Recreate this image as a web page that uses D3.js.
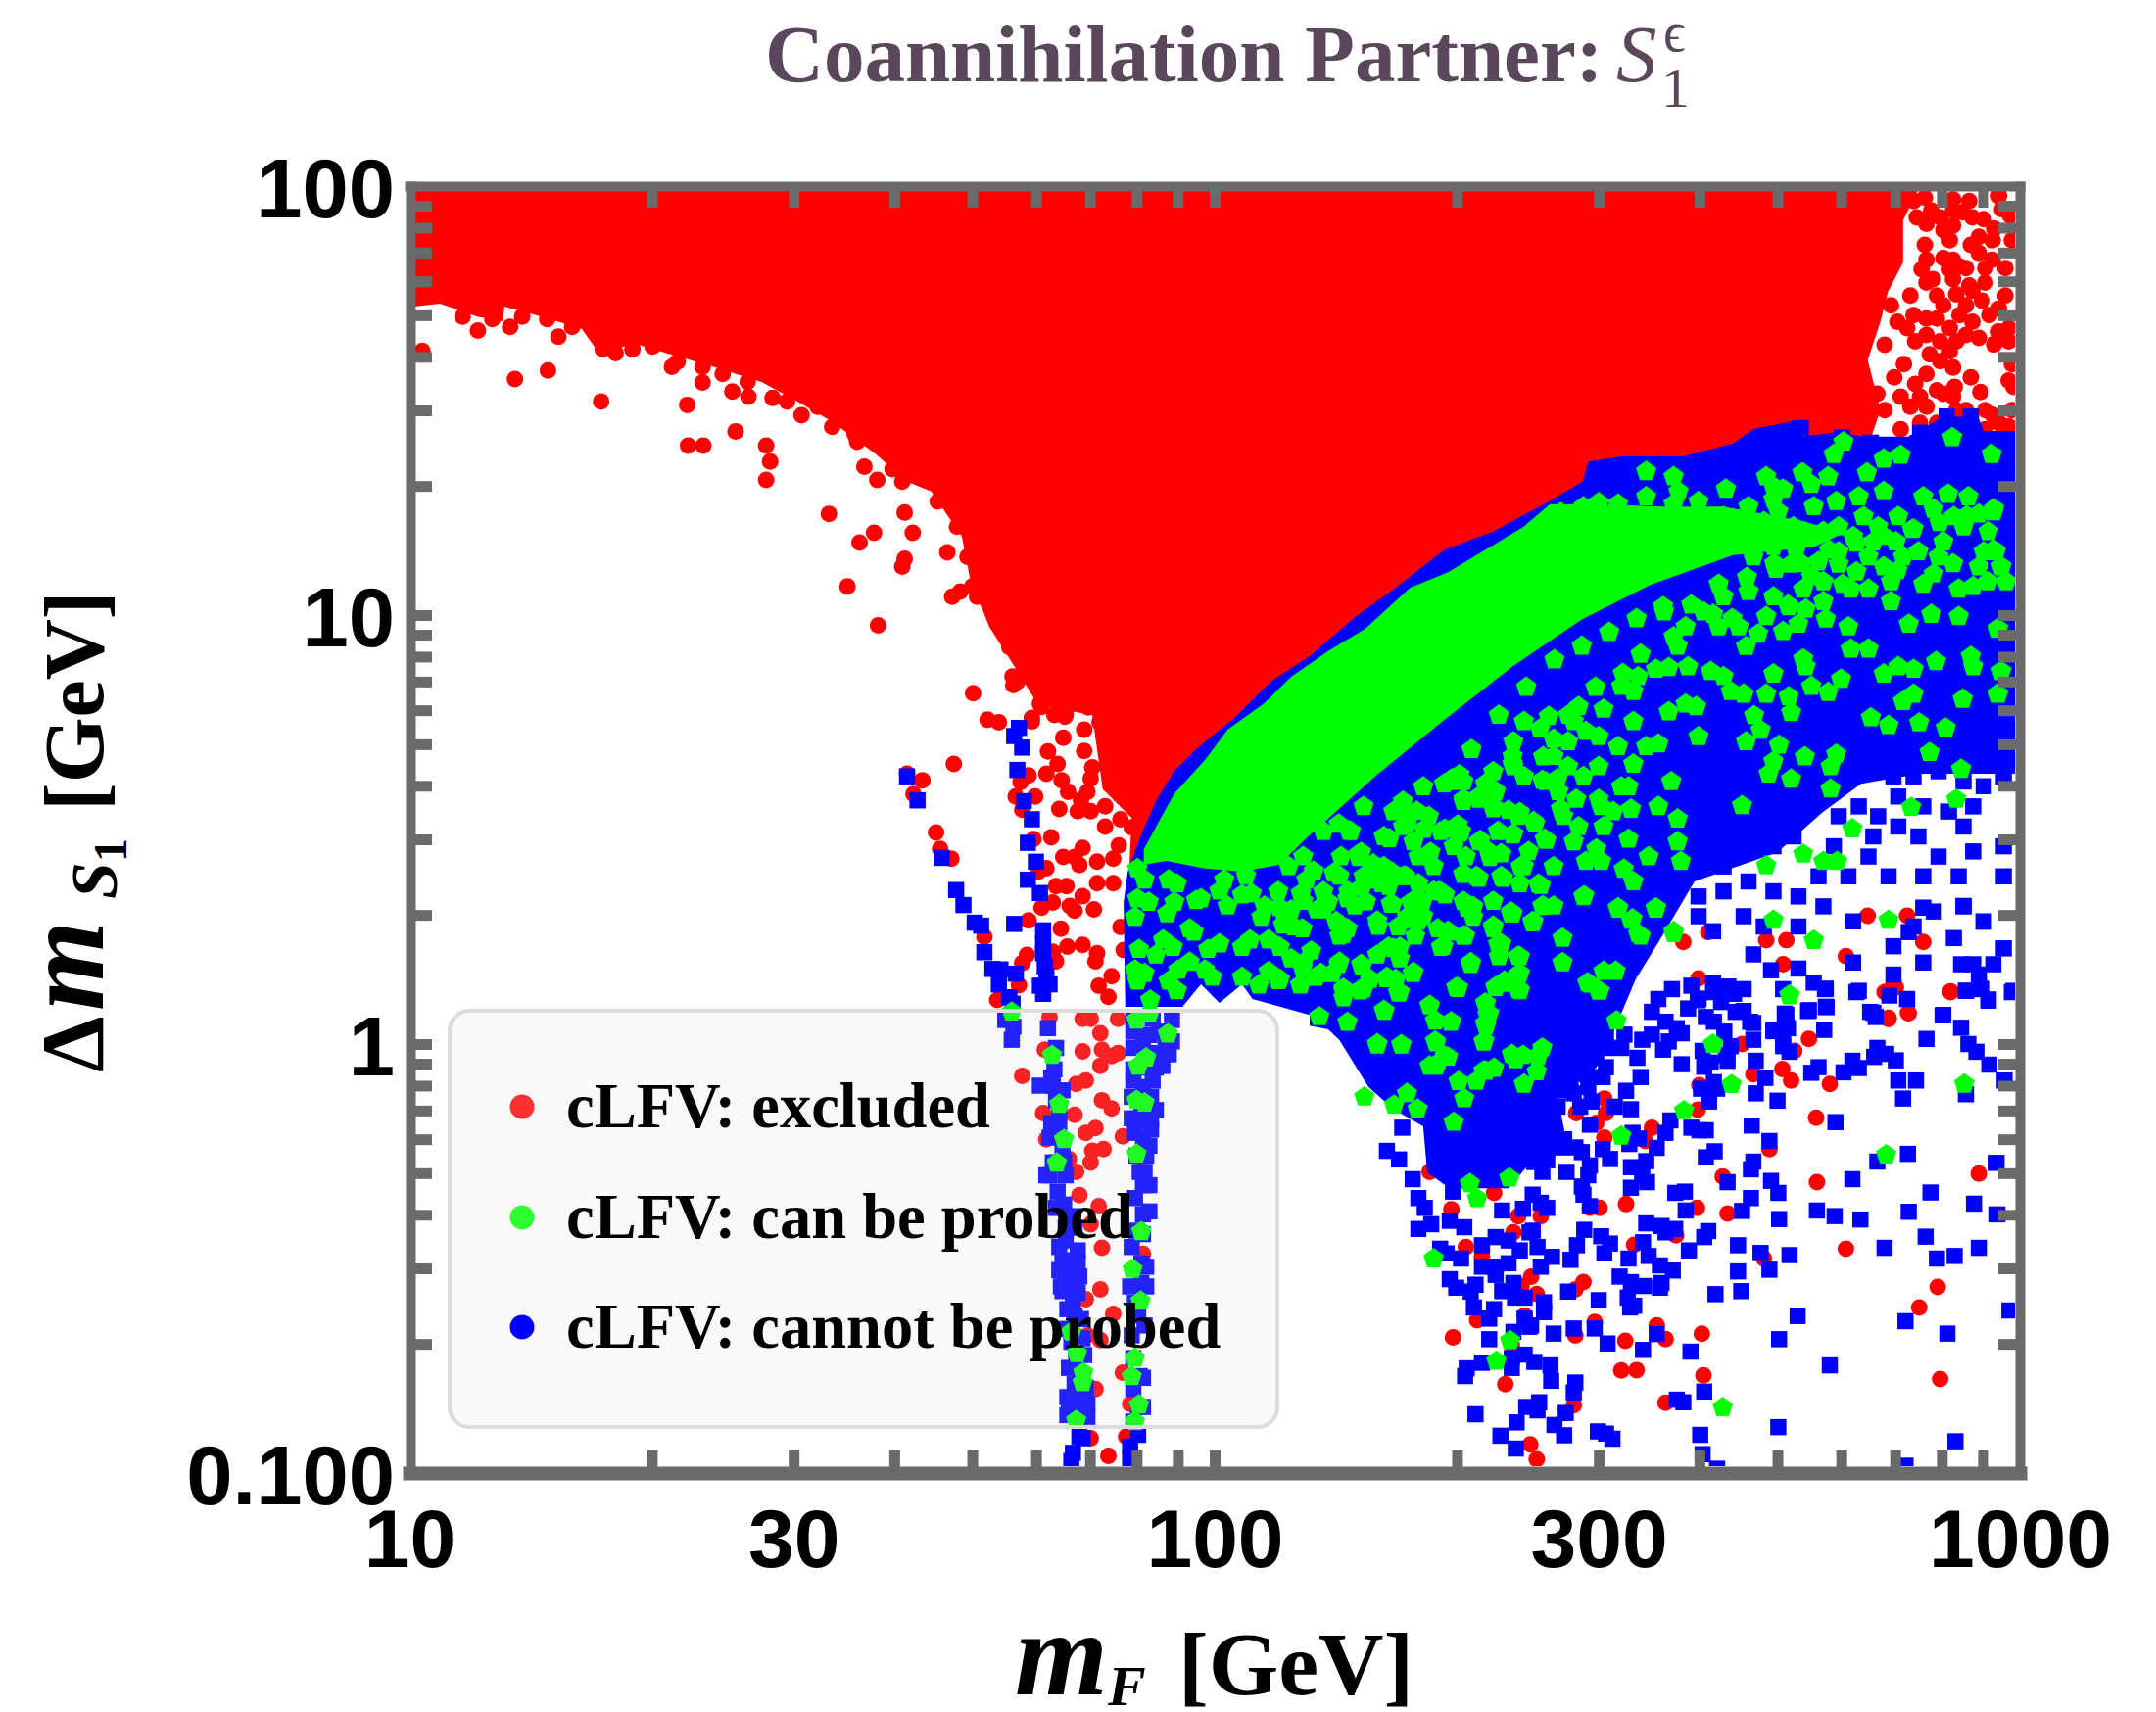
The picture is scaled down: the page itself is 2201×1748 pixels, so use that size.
<!DOCTYPE html>
<html><head><meta charset="utf-8">
<script src="https://cdnjs.cloudflare.com/ajax/libs/d3/7.8.5/d3.min.js"></script>
<style>html,body{margin:0;padding:0;background:#fff}svg{display:block}</style></head>
<body><svg id="c" width="2201" height="1748"></svg>
<script>
// All readings are [log10(mF / GeV), log10(dm / GeV)].
const xLabelTicks=[10,30,100,300,1000];
const yLabelTicks=[100,10,1,0.1];
const yLabelText=["100","10","1","0.100"];
const legendNames=["cLFV: excluded","cLFV: can be probed","cLFV: cannot be probed"];

// Outlines of the clouds too dense to resolve into single points
const redZone=[[1,2],[2.876,2],[2.855,1.92],[2.855,1.822],[2.836,1.753],[2.827,1.685],[2.811,1.594],[2.827,1.479],[2.809,1.38],[2.742,1.38],[2.669,1.38],[2.582,1.3],[2.464,1.25],[2.416,1.24],[2.36,1.19],[2.286,1.124],[2.22,1.033],[2.174,.969],[2.118,.88],[2.071,.822],[2.024,.736],[1.978,.665],[1.95,.612],[1.927,.542],[1.909,.464],[1.894,.413],[1.897,.527],[1.861,.594],[1.848,.767],[1.781,.79],[1.751,.881],[1.72,.973],[1.696,1.087],[1.686,1.183],[1.648,1.288],[1.618,1.311],[1.58,1.374],[1.524,1.452],[1.482,1.498],[1.438,1.543],[1.376,1.58],[1.32,1.61],[1.282,1.632],[1.234,1.614],[1.214,1.667],[1.164,1.696],[1.118,1.719],[1.116,1.685],[1.084,1.696],[1.038,1.726],[1.006,1.719],[1,1.719]];
const blueZone=[[1.889,.087],[1.887,.331],[1.892,.402],[1.909,.489],[1.927,.566],[1.95,.637],[1.978,.689],[2.024,.76],[2.071,.847],[2.118,.904],[2.174,.995],[2.22,1.057],[2.286,1.153],[2.345,1.194],[2.415,1.265],[2.457,1.311],[2.464,1.358],[2.507,1.37],[2.539,1.37],[2.582,1.37],[2.644,1.4],[2.669,1.434],[2.718,1.452],[2.731,1.416],[2.774,1.427],[2.805,1.416],[2.861,1.416],[2.905,1.463],[2.948,1.463],[2.955,1.429],[3,1.429],[3,.63],[2.876,.63],[2.803,.607],[2.754,.539],[2.699,.447],[2.596,.379],[2.56,.265],[2.523,.151],[2.492,.014],[2.474,-.055],[2.426,-.123],[2.438,-.237],[2.389,-.283],[2.365,-.336],[2.292,-.336],[2.264,-.299],[2.259,-.192],[2.223,-.153],[2.191,-.1],[2.176,-.055],[2.155,.009],[2.141,.034],[2.118,.043],[2.118,.068],[2.047,.105],[2.034,.139],[2.006,.096],[1.983,.139],[1.96,.087]];
const greenZone=[[1.912,.418],[1.912,.454],[1.932,.523],[1.95,.584],[1.988,.662],[2.016,.733],[2.062,.795],[2.095,.856],[2.141,.916],[2.187,.968],[2.243,1.064],[2.29,1.1],[2.345,1.162],[2.383,1.205],[2.416,1.258],[2.471,1.258],[2.557,1.253],[2.631,1.253],[2.731,1.219],[2.78,1.19],[2.746,1.16],[2.644,1.14],[2.541,1.07],[2.456,.99],[2.37,.88],[2.285,.755],[2.2,.625],[2.114,.48],[2.08,.418],[2.034,.402],[1.988,.409],[1.94,.427]];

// Red points: top-right corner, the left fringe, the V between the strips, the lower right
const redCorner=[[2.868,1.965],[2.882,1.973],[2.872,1.927],[2.917,1.969],[2.937,1.965],[2.974,1.977],[2.988,1.931],[2.955,1.923],[2.917,1.943],[2.905,1.897],[2.917,1.908],[2.968,1.901],[2.966,1.874],[2.882,1.863],[2.913,1.874],[2.939,1.863],[2.949,1.844],[2.905,1.832],[2.925,1.813],[2.933,1.809],[2.957,1.809],[2.982,1.809],[2.878,1.806],[2.892,1.783],[2.917,1.783],[2.937,1.768],[2.897,1.745],[2.921,1.748],[2.941,1.756],[2.953,1.733],[2.982,1.745],[2.897,1.691],[2.925,1.699],[2.962,1.699],[2.941,1.684],[2.986,1.669],[2.949,1.646],[2.968,1.631],[2.986,1.638],[2.901,1.638],[2.921,1.638],[2.888,1.608],[2.913,1.615],[2.917,1.577],[2.884,1.562],[2.939,1.554],[2.919,1.532],[2.905,1.516],[2.951,1.52],[2.992,1.532],[2.86,1.669],[2.868,1.699],[2.864,1.745],[2.848,1.684],[2.84,1.722],[2.856,1.585],[2.832,1.63],[2.844,1.554],[2.852,1.509],[2.876,1.509],[2.884,1.486],[2.966,1.467],[2.921,1.478],[2.986,1.44],[2.957,1.433],[2.974,1.448],[2.909,1.433],[2.876,1.448],[2.852,1.433],[2.832,1.478],[2.823,1.516],[2.884,1.912],[2.99,1.585],
[2.89,1.943],[2.901,1.927],[2.941,1.927],[2.929,1.939],[2.978,1.946],[2.99,1.874],[2.949,1.882],[2.884,1.828],[2.913,1.806],[2.966,1.828],[2.917,1.828],[2.884,1.775],[2.957,1.775],[2.905,1.722],[2.933,1.722],[2.974,1.714],[2.884,1.691],[2.913,1.669],[2.933,1.653],[2.884,1.653],[2.901,1.592],[2.974,1.661],[2.87,1.638],[2.87,1.539],[2.897,1.524],[2.917,1.509],[2.957,1.478],[2.933,1.478],[2.864,1.486],[2.897,1.448],[2.921,1.448],[2.99,1.478],[2.986,1.547]];
const redFringe=[[1.085,1.663],[1.016,1.616],[1.131,1.55],[1.172,1.57],[1.238,1.498],[1.345,1.49],[1.346,1.395],[1.365,1.395],[1.405,1.428],[1.443,1.395],[1.448,1.358],[1.443,1.315],[1.521,1.236],[1.577,1.192],[1.559,1.169],[1.615,1.239],[1.625,1.192],[1.615,1.131],[1.612,1.113],[1.544,1.067],[1.582,.976],[1.668,1.146],[1.674,1.043],[1.684,1.055],[1.7,.818],[1.676,.653],[1.618,.63],[1.637,.615],[1.626,.583],[1.654,.493],[1.659,.455],[1.673,.432],[1.364,1.542],[1.401,1.521],[1.421,1.509],[1.451,1.506],[1.487,1.466],[1.326,1.579],[1.364,1.579],[1.256,1.611],[1.24,1.62],[1.185,1.649],[1.125,1.672],[1.171,1.69],[1.565,1.346],[1.581,1.315],[1.553,1.422],[1.699,1.067],[1.724,1.02],[1.736,.973],[1.755,.915],[1.749,.857],[1.78,.903],[1.792,.962],[1.805,.857],[1.786,.799],[1.811,.775],[1.773,.752],[1.823,.903],[1.86,.88],[1.848,.787],[1.718,1.032],[1.749,.962],[1.767,.892],[1.792,.892],[1.755,.845],[1.786,.834],[1.811,.95],[1.836,.927],[1.823,.834],[1.86,.834],[1.885,.903],[1.854,.95],[1.761,1.032],[1.798,1.02],[1.731,.977],[1.745,.925],[1.769,.899],[1.759,.855],[1.75,.837],[1.783,.881],[1.801,.907],[1.792,.846],[1.815,.881],[1.783,.794],[1.815,.768],[1.838,.733],[1.857,.75],[1.843,.785],
[1.066,1.696],[1.103,1.69],[1.14,1.696],[1.202,1.672],[1.277,1.62],[1.302,1.626],[1.333,1.591],[1.389,1.562],[1.42,1.544],[1.469,1.498],[1.507,1.486],[1.525,1.439],[1.556,1.404],[1.6,1.34],[1.612,1.311],[1.656,1.265],[1.68,1.206],[1.693,1.136],[1.705,1.043]];
const redVee=[[1.718,.756],[1.732,.75],[1.773,.76],[1.785,.786],[1.801,.767],[1.814,.763],[1.812,.714],[1.793,.682],[1.805,.653],[1.791,.63],[1.81,.615],[1.769,.626],[1.759,.611],[1.753,.577],[1.777,.577],[1.761,.546],[1.818,.588],[1.842,.588],[1.834,.569],[1.807,.548],[1.83,.543],[1.846,.543],[1.864,.507],[1.797,.482],[1.775,.478],[1.836,.457],[1.812,.436],[1.826,.436],[1.832,.417],[1.791,.41],[1.781,.402],[1.854,.425],[1.874,.432],[1.881,.463],[1.803,.368],[1.816,.368],[1.836,.345],[1.799,.33],[1.785,.318],[1.82,.322],[1.826,.311],[1.85,.314],[1.854,.375],[1.874,.375],[1.769,.288],[1.809,.269],[1.817,.227],[1.836,.231],[1.854,.212],[1.852,.193],[1.799,.215],[1.803,.193],[1.767,.208],[1.761,.189],[1.757,.137],[1.872,.158],[1.856,.136],[1.868,.11],[1.73,.103],[1.714,.25],[1.846,.619],[1.848,.645],[1.838,.683],[1.883,.273],[1.887,.219],[1.864,.554],[1.883,.524],[1.897,.505],
[1.761,-.074],[1.795,.063],[1.789,-.013],[1.836,-.017],[1.858,.025],[1.86,-.013],[1.872,-.028],[1.88,-.021],[1.858,-.051],[1.828,-.093],[1.84,-.085],[1.86,-.131],[1.872,-.15],[1.826,-.165],[1.84,-.207],[1.852,-.196],[1.848,-.249],[1.862,-.245],[1.846,-.276],[1.828,-.298],[1.819,-.268],[1.832,-.352],[1.856,-.378],[1.846,-.42],[1.86,-.475],[1.858,-.572],[1.874,-.629],[1.84,-.595],[1.852,-.804],[1.886,-.766],[1.895,-.839],[1.868,-.96],[1.846,-.919],[1.836,.059],[1.846,.059],[1.88,.059],[1.886,-.215],[1.787,-.161],[1.791,-.222],[1.911,-.489],[1.842,-.679],[1.858,-.69],[1.89,-.915]];
const redLowerLeft=[[2.296,-.684],[2.326,-.644],[2.361,-.793],[2.377,-.401],[2.371,-.439],[2.347,-.347],[2.31,-.283],[2.294,-.385],[2.267,-.298],[2.312,-.473],[2.332,-.496],[2.381,-.564],[2.369,-.701],[2.385,-.633]];
const redLowerRight=[[2.846,.132],[2.832,.121],[2.914,.121],[2.861,.073],[2.837,.061],[2.738,.012],[2.72,-.016],[2.655,0],[2.705,-.058],[2.716,-.085],[2.669,-.07],[2.764,-.093],[2.602,-.096],[2.6,-.153],[2.747,-.172],[2.689,-.245],[2.949,-.302],[2.748,-.322],[2.631,-.309],[2.637,-.395],[2.599,-.382],[2.511,-.373],[2.478,-.382],[2.466,-.382],[2.405,-.401],[2.521,-.468],[2.573,-.446],[2.682,-.5],[2.784,-.477],[2.898,-.566],[2.875,-.614],[2.458,-.555],[2.448,-.572],[2.4,-.583],[2.393,-.542],[2.472,-.648],[2.448,-.679],[2.51,-.692],[2.549,-.656],[2.56,-.688],[2.605,-.675],[2.505,-.761],[2.524,-.76],[2.607,-.772],[2.901,-.781],[2.56,-.836],[2.446,-.842],[2.392,-.933],[2.4,-.968],[2.543,-.195],[2.484,-.218],[2.535,-.226],[2.484,-.127],[2.486,-.161],[2.449,-.161],[2.474,-.184],
[2.86,.299],[2.811,.299],[2.88,.238],[2.685,.242],[2.71,.242],[2.613,.261],[2.582,.238],[2.601,.153],[2.914,.123],[2.84,.129],[2.784,.205],[2.706,.186],[2.862,.072],[2.837,.058]];

// Blue points
const blueTopEdge=[[2.909,1.463],[2.939,1.463],[2.939,1.444],[2.728,1.436],[2.679,1.414],[2.779,1.414],[2.876,1.425],[2.97,1.41],[2.712,1.395],[2.815,1.402]];
const blueUpperRight=[[2.818,.636],[2.843,.624],[2.868,.624],[2.899,.636],[2.93,.612],[2.955,.601],[2.849,.577],[2.88,.554],[2.8,.554],[2.775,.531],[2.824,.531],[2.912,.542],[2.942,.554],[2.98,.624],[2.93,.507],[2.849,.507],[2.818,.484],[2.769,.461],[2.719,.484],[2.694,.461],[2.75,.391],[2.812,.437],[2.874,.484],[2.899,.437],[2.942,.449],[2.98,.461],[2.88,.391],[2.787,.391],[2.837,.391],[2.98,.391],[2.924,.391],[2.725,.344],[2.694,.356],[2.663,.379],[2.632,.356],[2.601,.344],[2.632,.414],[2.601,.414],[2.657,.298],[2.682,.274],[2.725,.274],[2.601,.298],[2.619,.263],[2.793,.286],[2.893,.309],[2.93,.321],[2.955,.286],[2.868,.274],[2.756,.321],
[2.793,.19],[2.843,.162],[2.8,.124],[2.918,.247],[2.955,.285],[2.93,.322],[2.88,.318],[2.862,.261],[2.843,.228],[2.88,.19],[2.927,.186],[2.942,.186],[2.967,.186],[2.98,.223],[2.949,.162],[2.952,.129],[2.961,.101],[2.992,.124],[2.933,.124],[2.905,.068],[2.818,.073],[2.759,.129],[2.744,.143],[2.725,.176],[2.691,.172],[2.669,.209],[2.619,.143],[2.638,.134],[2.601,.106],[2.657,.077],[2.669,.049],[2.694,.03],[2.71,.068],[2.737,.077],[2.759,.087],[2.706,.002],[2.635,-.026]];
const blueLowerRight=[[2.797,.121],[2.86,.105],[2.838,.113],[2.933,.124],[2.953,.128],[2.961,.104],[2.99,.121],[2.758,.128],[2.76,.086],[2.738,.079],[2.706,.128],[2.814,.075],[2.821,.063],[2.904,.067],[2.927,.038],[2.884,.012],[2.936,0],[2.946,-.018],[2.962,-.048],[2.757,.033],[2.694,.033],[2.712,.037],[2.708,.071],[2.706,-.005],[2.714,-.018],[2.823,-.009],[2.819,-.03],[2.834,-.023],[2.846,-.038],[2.792,-.039],[2.8,-.056],[2.781,-.066],[2.75,-.054],[2.741,-.067],[2.849,-.085],[2.871,-.085],[2.855,-.127],[2.981,-.085],[2.933,-.117],[2.684,-.079],[2.672,-.039],[2.672,-.115],[2.699,-.132],[2.771,-.182],[2.667,-.19],[2.689,-.226],[2.669,-.274],[2.666,-.292],[2.621,-.25],[2.61,-.264],[2.861,-.256],[2.823,-.274],[2.971,-.277],[2.602,-.201],[2.592,-.195],[2.61,-.201],[2.566,-.178],[2.56,-.207],[2.549,-.242],[2.536,-.273],[2.517,-.287],[2.531,-.306],[2.537,-.322],[2.517,-.335],[2.637,-.322],[2.691,-.319],[2.7,-.347],[2.792,-.315],[2.889,-.346],[2.943,-.372],[2.572,-.347],[2.584,-.344],[2.666,-.359],[2.655,-.389],[2.585,-.388],[2.748,-.388],[2.77,-.401],[2.802,-.409],[2.862,-.391],[2.701,-.408],[2.972,-.397],[2.883,-.449],[2.949,-.475],[2.919,-.494],[2.897,-.5],[2.832,-.475],[2.714,-.492],[2.678,-.487],[2.65,-.469],[2.689,-.526],[2.65,-.53],[2.654,-.576],[2.622,-.583],[2.613,-.436],[2.608,-.45],[2.589,-.481],[2.572,-.431],[2.56,-.439],[2.555,-.424],[2.536,-.418],[2.532,-.462],[2.539,-.494],[2.553,-.516],[2.569,-.528],[2.514,-.5],[2.503,-.542],[2.517,-.555],[2.533,-.564],[2.553,-.568],[2.555,-.557],[2.987,-.621],[2.858,-.646],[2.724,-.634],[2.91,-.675],[2.701,-.688],[2.764,-.749],[2.591,-.717],[2.549,-.676],[2.532,-.713],[2.488,-.698],[2.472,-.663],[2.446,-.663],[2.421,-.675],[2.417,-.749],[2.397,-.741],[2.418,-.785],[2.448,-.789],[2.446,-.812],[2.608,-.81],[2.574,-.829],[2.582,-.835],[2.403,-.835],[2.401,-.854],[2.436,-.86],[2.422,-.888],[2.434,-.912],[2.476,-.903],[2.486,-.908],[2.494,-.92],[2.603,-.911],[2.7,-.893],[2.92,-.926],[2.606,-.956],[2.624,-.99],[2.858,-.983],[2.513,-.591],[2.521,-.61],[2.516,-.614],[2.477,-.597],[2.439,-.577],[2.409,-.602],[2.409,-.625],[2.393,-.656],[2.459,-.433],[2.48,-.448],[2.491,-.465],[2.484,-.488],[2.45,-.469],[2.442,-.503],[2.419,-.496],[2.405,-.519],[2.401,-.473],[2.395,-.435],[2.517,-.152],[2.497,-.146],[2.468,-.134],[2.454,-.146],[2.466,-.188],[2.511,-.109],[2.529,-.077],[2.525,-.032],[2.505,-.009],[2.509,.022],[2.486,.025],[2.519,-.207],[2.527,-.22],[2.515,-.233],[2.624,-.104],[2.614,-.112],[2.614,-.134],[2.604,-.104],[2.62,-.089],[2.641,-.005],[2.637,-.039],[2.616,-.043],[2.58,-.047],[2.608,-.053],[2.606,-.016],[2.633,.029],[2.62,.052],[2.61,.063],[2.645,.117],[2.657,.128],[2.6,.102],[2.629,.098],[2.647,.075],[2.665,.052],[2.669,.01],[2.543,.075],[2.56,.052],[2.574,.037],[2.543,.022],[2.564,.006],[2.557,-.013],[2.531,.01],[2.58,.025],[2.437,-.298],[2.407,-.298],[2.456,-.252],[2.482,-.245],[2.491,-.268],[2.466,-.283],[2.448,-.241],[2.43,-.241],[2.413,-.245],[2.397,-.245],[2.464,-.306],[2.456,-.332],[2.458,-.351],[2.466,-.378],[2.395,-.351],[2.405,-.37],[2.413,-.382],[2.413,-.131],[2.426,-.146],
[2.482,-.077],[2.464,-.1],[2.446,-.115],[2.43,-.108],[2.413,-.169],[2.397,-.176],[2.417,-.207],[2.434,-.222],[2.401,-.214],[2.397,-.275],[2.413,-.271],[2.486,-.054],[2.474,-.032],[2.486,-.009],[2.462,-.07],[2.442,-.085],[2.568,.128],[2.551,.105],[2.592,.136],[2.62,.121],[2.588,.083]];
const blueLowerLeft=[[2.233,-.195],[2.214,-.249],[2.229,-.269],[2.246,-.315],[2.253,-.359],[2.261,-.382],[2.253,-.431],[2.269,-.42],[2.28,-.477],[2.288,-.488],[2.306,-.5],[2.292,-.548],[2.3,-.568],[2.318,-.577],[2.322,-.614],[2.341,-.64],[2.347,-.618],[2.324,-.561],[2.347,-.519],[2.332,-.519],[2.349,-.538],[2.365,-.511],[2.371,-.557],[2.357,-.576],[2.373,-.591],[2.385,-.591],[2.385,-.64],[2.391,-.659],[2.371,-.671],[2.341,-.688],[2.369,-.732],[2.385,-.724],[2.369,-.755],[2.332,-.743],[2.313,-.756],[2.311,-.774],[2.387,-.846],[2.324,-.863],[2.375,-.882],[2.355,-.913],[2.374,-.943],[2.292,-.412],[2.31,-.427],[2.296,-.344],[2.292,-.306],[2.332,-.469],[2.349,-.45],[2.365,-.458],[2.379,-.481],[2.357,-.388],[2.383,-.384],[2.391,-.439]];
const blueThread=[[1.618,.624],[1.631,.568],[1.661,.434],[1.679,.359],[1.688,.324],[1.702,.283],[1.757,.737],[1.751,.718],[1.761,.691],[1.755,.639],[1.763,.566],[1.773,.524],[1.768,.469],[1.778,.425],[1.768,.383],[1.783,.352],[1.751,.28],[1.787,.265],[1.787,.234],[1.787,.212],[1.789,.181],[1.791,.158],[1.783,.136],[1.787,.117],[1.795,.139],[1.753,.164],[1.724,.175],[1.734,.174],[1.732,.139],[1.745,.109],[1.714,.214],[1.71,.276],[1.749,.094]];
const blueLeftStrip=[[1.74,.056],[1.75,.04],[1.748,.01],[1.793,.037],[1.803,-.009],[1.801,-.059],[1.797,-.078],[1.783,-.097],[1.799,-.097],[1.811,-.108],[1.803,-.131],[1.807,-.161],[1.807,-.188],[1.795,-.218],[1.811,-.245],[1.803,-.276],[1.795,-.306],[1.815,-.306],[1.805,-.344],[1.813,-.374],[1.822,-.401],[1.815,-.428],[1.815,-.458],[1.83,-.481],[1.811,-.504],[1.824,-.511],[1.813,-.549],[1.828,-.549],[1.811,-.576],[1.824,-.603],[1.826,-.633],[1.817,-.664],[1.836,-.686],[1.828,-.709],[1.828,-.74],[1.834,-.77],[1.826,-.793],[1.84,-.801],[1.826,-.823],[1.838,-.823],[1.828,-.839],[1.819,-.854],[1.84,-.85],[1.83,-.869],[1.832,-.915],[1.836,-.919],[1.824,-.953],[1.822,-.972],
[1.803,-.382],[1.826,-.428],[1.807,-.473],[1.83,-.511],[1.807,-.527],[1.832,-.542],[1.809,-.565],[1.83,-.58],[1.817,-.618],[1.834,-.641],[1.822,-.694],[1.838,-.725],[1.819,-.755],[1.817,-.823],[1.842,-.869],[1.817,-.865],[1.83,-.808],[1.842,-.839],[1.799,-.276],[1.791,-.306],[1.813,-.276],[1.797,-.184]];
const blueRightStrip=[[1.899,.059],[1.923,.059],[1.947,.056],[1.899,.029],[1.919,.021],[1.939,.006],[1.899,-.009],[1.919,-.021],[1.943,-.024],[1.899,-.059],[1.935,-.051],[1.899,-.085],[1.923,-.085],[1.897,-.123],[1.921,-.123],[1.897,-.173],[1.921,-.177],[1.901,-.207],[1.911,-.222],[1.919,-.237],[1.903,-.26],[1.907,-.298],[1.911,-.329],[1.901,-.359],[1.911,-.397],[1.903,-.435],[1.897,-.473],[1.909,-.511],[1.895,-.565],[1.909,-.557],[1.901,-.603],[1.905,-.633],[1.897,-.679],[1.899,-.732],[1.907,-.774],[1.899,-.804],[1.905,-.846],[1.899,-.88],[1.905,-.911],[1.895,-.938],[1.895,-.968],[1.911,.006],[1.931,-.024],[1.911,-.055],[1.911,-.1],[1.909,-.154],
[1.931,.029],[1.947,.006],[1.935,-.024],[1.927,-.055],[1.911,-.123],[1.927,-.154],[1.911,-.177],[1.921,-.199],[1.915,-.26],[1.913,-.298],[1.919,-.329],[1.919,-.39],[1.911,-.443],[1.915,-.519],[1.915,-.565],[1.913,-.656],[1.911,-.778],[1.911,-.846]];

// Green points
const greenUpper=[[2.781,1.404],[2.769,1.375],[2.831,1.364],[2.852,1.373],[2.916,1.414],[2.965,1.375],[2.536,1.335],[2.57,1.323],[2.685,1.323],[2.73,1.332],[2.762,1.323],[2.81,1.332],[2.635,1.294],[2.694,1.3],[2.741,1.305],[2.706,1.294],[2.576,1.288],[2.536,1.276],[2.477,1.262],[2.458,1.253],[2.43,1.239],[2.501,1.259],[2.57,1.259],[2.601,1.265],[2.694,1.27],[2.772,1.265],[2.8,1.276],[2.831,1.288],[2.88,1.276],[2.911,1.282],[2.936,1.276],[2.967,1.241],[2.918,1.23],[2.949,1.236],[2.744,1.253],[2.806,1.23],[2.849,1.23],[2.893,1.247],[2.731,1.183],[2.775,1.206],[2.824,1.206],[2.868,1.201],[2.905,1.171],[2.93,1.206],[2.961,1.195],[2.955,1.148],[2.97,1.148],[2.949,1.113],[2.977,1.113],[2.983,1.078],[2.961,1.078],[2.942,1.067],[2.924,1.061],[2.88,1.072],[2.893,1.096],[2.84,1.078],[2.812,1.061],[2.79,1.061],[2.775,1.119],[2.831,1.113],[2.812,1.136],[2.775,1.148],[2.756,1.032],[2.731,1.061],[2.741,1.09],[2.716,1.119],[2.759,.991],[2.734,1.014],[2.84,1.032],[2.89,1.002],[2.924,.997],[2.862,.979],[2.787,.973],[2.725,.979],[2.706,.962],[2.685,.997],[2.675,.956],[2.651,.973],[2.626,.973],[2.619,1.002],[2.973,.968],
[2.632,1.23],[2.663,1.253],[2.682,1.218],[2.7,1.241],[2.719,1.206],[2.756,1.195],[2.793,1.183],[2.846,1.171],[2.874,1.148],[2.694,1.16],[2.669,1.136],[2.697,1.107],[2.75,1.125],[2.797,1.101],[2.722,1.154],[2.818,1.171],[2.899,1.136],[2.855,1.136],[2.663,1.055],[2.694,1.043],[2.632,1.043],[2.607,1.008],[2.713,1.02],[2.756,1.078]];
const greenBandEdge=[[1.943,.383],[1.977,.335],[2.012,.383],[2.046,.351],[2.08,.319],[2.114,.383],[2.148,.399],[2.182,.447],[2.217,.479],[2.251,.543],[2.285,.607],[2.319,.687],[2.353,.767],[2.387,.832],[2.422,.896],[2.456,.928],[2.49,.96],[2.524,.992],[2.558,1.008],[2.592,1.024],[2.626,1.072],[2.661,1.088],[2.695,1.12],[2.729,1.12],[2.763,1.152],[2.797,1.168],[2.831,1.184],[2.866,1.2],[2.9,1.216],[2.934,1.232],[2.968,1.248],[2.199,.383],[2.268,.447],[2.336,.607],[2.404,.735],[2.473,.832],[2.234,.543],[2.302,.511],[2.37,.671],[2.439,.767],[2.507,.864],[2.575,.928],[2.643,.992],[2.712,1.024],[2.78,1.072],[2.848,1.104],[2.917,1.12],[2.968,1.152]];
const greenMiddle=[[2.79,.921],[2.812,.921],[2.66,.927],[2.529,.909],[2.731,.898],[2.734,.88],[2.694,.863],[2.778,.851],[2.831,.863],[2.849,.88],[2.868,.874],[2.896,.892],[2.939,.904],[2.942,.88],[2.977,.869],[2.632,.857],[2.616,.869],[2.588,.88],[2.641,.822],[2.657,.816],[2.741,.834],[2.713,.81],[2.685,.816],[2.762,.82],[2.868,.816],[2.855,.799],[2.929,.804],[2.973,.816],[2.716,.773],[2.67,.766],[2.678,.732],[2.66,.705],[2.815,.761],[2.837,.743],[2.875,.749],[2.908,.737],[2.701,.697],[2.733,.67],[2.772,.676],[2.694,.659],[2.765,.647],[2.688,.63],[2.716,.618],[2.765,.595],[2.888,.68],[2.927,.641],[2.921,.571],[2.865,.552],[2.655,.556],[2.792,.502],[2.731,.443],[2.756,.426],[2.773,.426],[2.685,.416],[2.579,.426],[2.575,.472],[2.514,.478],[2.575,.525],[2.567,.612],[2.601,.717],[2.598,.787],[2.585,.793],[2.564,.878],[2.548,.874],[2.585,.973],[2.57,.95],[2.557,1.02],[2.551,.7],[2.536,.694],[2.52,.653],[2.551,.554],[2.517,.548],[2.505,.6],[2.514,.6],[2.48,.554],[2.477,.571],[2.483,.507],[2.474,.455],[2.461,.426],[2.48,.426],[2.508,.408],[2.539,.437],[2.52,.379],[2.501,.315],[2.458,.344],[2.548,.315],[2.519,.292],[2.57,.263],[2.526,.257],[2.41,.478],[2.396,.519],[2.411,.612],[2.427,.589],[2.449,.571],[2.371,.49],[2.38,.414],[2.356,.391],[2.325,.391],[2.309,.397],[2.402,.373],[2.408,.321],[2.321,.321],[2.368,.304],[2.395,.286],[2.346,.269],[2.349,.589],[2.328,.577],[2.309,.566],[2.346,.554],[2.377,.531],[2.293,.612],[2.309,.612],[2.371,.647],[2.384,.624],[2.439,.705],[2.461,.729],[2.477,.717],[2.501,.694],[2.52,.752],[2.564,.775],[2.52,.822],[2.526,.857],[2.505,.834],[2.483,.781],[2.452,.787],[2.421,.711],[2.446,.752],[2.371,.705],[2.415,.764],[2.384,.752],[2.281,.496],[2.306,.496],[2.297,.461],[2.328,.472],[2.272,.414],[2.278,.356],[2.253,.333],[2.219,.327],[2.234,.391],[2.21,.414],[2.197,.42],[2.169,.496],[2.157,.437],[2.179,.443],[2.185,.391],[2.135,.356],[2.11,.333],[2.085,.309],[2.098,.274],[2.259,.298],[2.29,.263],[2.228,.274],[2.151,.286],[2.123,.403],[2.092,.414],[2.079,.356],[2.11,.437],[2.135,.496],[2.154,.513],[2.222,.542],[2.234,.507],[2.247,.472],[2.21,.484],
[2.11,.507],[2.092,.472],[2.185,.554],[2.259,.6],[2.234,.566],[2.266,.531],[2.352,.496],[2.39,.449],[2.433,.531],[2.446,.472],[2.421,.414],[2.34,.449],[2.312,.437],[2.253,.437],[2.216,.368],[2.166,.356],[2.309,.333],[2.346,.333],[2.477,.647],[2.458,.624],[2.439,.647],[2.408,.67],[2.346,.635],[2.495,.542],[2.452,.507]];
const greenBelowBand=[[1.904,.409],[1.913,.383],[1.953,.374],[1.904,.339],[1.918,.331],[1.901,.296],[1.941,.304],[1.95,.331],[1.969,.269],[1.983,.339],[2.006,.357],[2.016,.322],[2.034,.348],[2.039,.392],[2.058,.296],[2.062,.322],[2.095,.313],[2.109,.269],[2.085,.278],[2.127,.313],[2.141,.331],[2.155,.392],[2.179,.435],[2.197,.418],[2.167,.497],[2.183,.366],[2.207,.374],[2.221,.4],[2.165,.339],[2.174,.322],[2.202,.287],[2.165,.269],[2.155,.252],[2.237,.392],[2.253,.374],[2.244,.331],[2.258,.331],[2.272,.357],[2.286,.348],[2.221,.326],[2.253,.287],[2.239,.296],[2.291,.261],[2.277,.269],[2.309,.252],[2.249,.252],[2.23,.226],[2.216,.226],[2.23,.199],[2.281,.226],[2.202,.208],[2.183,.182],[2.155,.191],[2.146,.165],[2.132,.165],[2.109,.178],[2.095,.199],[2.12,.217],[2.081,.226],[2.067,.243],[2.034,.226],[2.044,.243],[2.006,.234],[1.992,.221],[1.969,.191],[1.955,.173],[1.927,.208],[1.906,.221],[1.936,.243],[1.948,.226],[1.974,.261],[1.988,.173],[1.997,.156],[2.034,.156],[2.055,.138],[2.067,.169],[2.081,.151],[2.106,.138],[2.125,.156],[1.901,.173],[1.913,.165],[1.904,.147],[1.943,.147],[1.953,.125],[1.92,.103],[2.16,.13],[2.16,.108],[2.183,.13],[2.193,.151],[2.214,.156],[2.225,.151],[2.23,.121],[2.246,.165],[2.211,.077],[2.13,.064],[2.165,.051],[2.202,-.002],[2.232,-.002],[2.274,.007],[2.274,.055],[2.293,.051],[2.267,.09],[2.302,.13],[2.337,.095],[2.339,.068],[2.337,.042],[2.335,.007],[2.349,.134],[2.36,.147],[2.379,.125],[2.379,.165],[2.318,.186],[2.356,.234],[2.353,.204],[2.379,.204],[2.346,.274],[2.395,.283],[2.37,.304],[2.407,.322],[2.421,.322],[2.321,.296],[2.314,.317],[2.251,.339],[2.379,.374],[2.405,.37],[2.358,.387],[2.309,.396],[2.328,.387],[2.384,.414],[2.342,.435],[2.356,.444],[2.33,.475],[2.37,.488],[2.412,.475],[2.398,.514],[2.286,.501],[2.304,.492],[2.26,.501],[2.239,.514],[2.346,.549],[2.365,.545],[2.379,.54],[2.328,.571],[2.309,.571],[2.295,.619],[2.304,.628],[2.346,.593],[2.37,.654],[2.407,.615],[2.426,.619],[2.421,.671],[2.43,.549],[2.402,-.028],[2.374,-.036],[2.337,-.063],[2.286,-.028],[2.277,-.045]];
const greenLower=[[2.107,.351],[2.135,.313],[2.16,.256],[2.188,.332],[2.219,.327],[2.253,.337],[2.281,.355],[2.321,.318],[2.368,.308],[2.408,.322],[2.459,.346],[2.501,.318],[2.548,.318],[2.529,.252],[2.57,.258],[2.517,.289],[2.346,.275],[2.396,.285],[2.352,.233],[2.377,.205],[2.432,.247],[2.432,.19],[2.318,.19],[2.284,.228],[2.311,.252],[2.247,.289],[2.203,.275],[2.154,.186],[2.182,.186],[2.222,.223],[2.11,.19],[2.126,.157],[2.079,.148],[2.107,.139],[2.213,.153],[2.247,.167],[2.16,.124],[2.185,.129],[2.228,.12],[2.302,.132],[2.349,.132],[2.377,.162],[2.377,.129],[2.483,.17],[2.498,.17],[2.463,.143],[2.477,.124],[2.837,.289],[2.744,.242],[2.694,.289],[2.714,.113],[2.619,0],
[2.466,.14],[2.478,.124],[2.714,.115],[2.499,.054],[2.619,-.001],[2.407,-.009],[2.401,-.028],[2.4,-.064],[2.642,-.094],[2.583,-.155],[2.505,-.214],[2.834,-.258],[2.931,-.093],[2.631,-.847],
[2.186,-.123],[2.223,-.142],[2.239,-.115],[2.252,-.151],[2.297,-.182],[2.31,-.127],[2.303,-.087],[2.325,-.086],[2.334,-.062],[2.347,-.056],[2.384,-.093],[2.369,-.024],[2.383,-.026],[2.317,-.325],[2.366,-.312],[2.326,-.36],[2.272,-.5],[2.367,-.691],[2.35,-.739],[2.275,-.051],[2.267,-.051],[2.29,-.03],[2.275,.003],[2.232,-.001],[2.202,.001],[2.334,.005],[2.336,.048],[2.341,.071],[2.336,.096],[2.294,.052],[2.274,.054],[2.21,.079],[2.267,.09],[2.229,.119],[2.181,.124],[2.3,.132],[2.349,.132],[2.377,.127],[2.359,.142]];
const greenStrips=[[1.748,.075],[1.798,-.026],[1.807,-.14],[1.813,-.222],[1.804,-.277],[1.903,.056],[1.919,.071],[1.942,.024],[1.915,-.032],[1.905,-.051],[1.903,-.131],[1.913,-.137],[1.903,-.256],[1.909,-.437],[1.898,-.525],[1.908,-.599],[1.822,-.671],[1.829,-.721],[1.837,-.766],[1.836,-.789],[1.828,-.877],[1.901,-.732],[1.897,-.775],[1.906,-.841],[1.901,-.88]];

const redPoints=[...redCorner,...redFringe,...redVee,...redLowerLeft,...redLowerRight];
const bluePoints=[...blueTopEdge,...blueUpperRight,...blueLowerRight,...blueLowerLeft,...blueThread,...blueLeftStrip,...blueRightStrip];
const greenPoints=[...greenUpper,...greenBandEdge,...greenMiddle,...greenBelowBand,...greenLower,...greenStrips];

const svg=d3.select("#c");
const x=d3.scaleLog().domain([10,1000]).range([418,2062]);
const y=d3.scaleLog().domain([0.1,100]).range([1504,190]);
const X=d=>x(Math.pow(10,d[0])), Y=d=>y(Math.pow(10,d[1]));

const defs=svg.append("defs");
defs.append("clipPath").attr("id","plot").append("rect").attr("x",424).attr("y",195).attr("width",1633).attr("height",1302);
defs.append("filter").attr("id","soft").append("feGaussianBlur").attr("stdDeviation",0.7);

const marks=svg.append("g").attr("clip-path","url(#plot)").append("g").attr("filter","url(#soft)");
const zone=d3.line().x(X).y(Y).curve(d3.curveLinearClosed);
const sym=(t,a)=>d3.symbol().type(t).size(a)();
const pentagon=d3.lineRadial().curve(d3.curveLinearClosed)([0,1,2,3,4].map(i=>[i*2*Math.PI/5,11]));

marks.append("path").attr("d",zone(redZone)).attr("fill","#f00");
marks.append("g").selectAll("path").data(redPoints).join("path")
  .attr("d",sym(d3.symbolCircle,227)).attr("fill","#f00").attr("transform",d=>`translate(${X(d)},${Y(d)})`);
marks.append("path").attr("d",zone(blueZone)).attr("fill","#00f");
marks.append("g").selectAll("path").data(bluePoints).join("path")
  .attr("d",sym(d3.symbolSquare,272)).attr("fill","#00f").attr("transform",d=>`translate(${X(d)},${Y(d)})`);
marks.append("path").attr("d",zone(greenZone)).attr("fill","#0f0");
marks.append("g").selectAll("path").data(greenPoints).join("path")
  .attr("d",pentagon).attr("fill","#0f0").attr("transform",d=>`translate(${X(d)},${Y(d)})`);

// Legend panel, laid over the points
const lg=svg.append("g");
lg.append("rect").attr("x",459).attr("y",1032).attr("width",845).attr("height",425).attr("rx",20)
  .attr("fill","rgb(217,217,217)").attr("fill-opacity",.16).attr("stroke","#dcdcdc").attr("stroke-width",4);
const legendColors=["#ff3030","#30ff30","#0000ff"];
legendNames.forEach((t,i)=>{
  const yy=[1130,1243,1355][i];
  lg.append("circle").attr("cx",533).attr("cy",yy).attr("r",12.5).attr("fill",legendColors[i]);
  lg.append("text").attr("x",578).attr("y",yy+21).attr("font-family","'Liberation Serif'").attr("font-weight","bold")
    .attr("font-size",64.5).attr("fill","#000").text(t);
});

// Frame and ticks through the axes
const minorX=[20,30,40,50,60,70,80,90,100,200,300,400,500,600,700,800,900];
const minorY=[];[0.1,1,10].forEach(d=>[2,3,4,5,6,7,8,9,10].forEach(k=>{if(d*k<100)minorY.push(+(d*k).toPrecision(3));}));
const ink="#6a6a6a";
function frame(axis,tx,ty,w){
  const g=svg.append("g").attr("transform",`translate(${tx},${ty})`).call(axis);
  g.selectAll(".domain").attr("stroke",ink).attr("stroke-width",w).attr("stroke-linecap","square");
  g.selectAll(".tick line").attr("stroke",ink).attr("stroke-width",11);
  g.selectAll(".tick text").remove();
}
frame(d3.axisBottom(x).tickValues(minorX).tickSizeOuter(0).tickSizeInner(-23),0,1504,14);
frame(d3.axisTop(x).tickValues(minorX).tickSizeOuter(0).tickSizeInner(-22),0,190,10);
frame(d3.axisLeft(y).tickValues(minorY).tickSizeOuter(0).tickSizeInner(-22),419,0,10);
frame(d3.axisRight(y).tickValues(minorY).tickSizeOuter(0).tickSizeInner(-22),2062,0,10);

// Tick labels
const tickFont="'Liberation Sans'";
const gx=svg.append("g").attr("transform","translate(0,1600)").call(d3.axisBottom(x).tickValues(xLabelTicks).tickSize(0).tickFormat(d=>String(d)));
gx.select(".domain").remove();
gx.selectAll("text").attr("y",0).attr("dy",0).attr("font-family",tickFont).attr("font-weight","bold").attr("font-size",84).attr("fill","#000");
const gy=svg.append("g").attr("transform","translate(403,0)").call(d3.axisLeft(y).tickValues(yLabelTicks).tickSize(0).tickFormat(d=>yLabelText[yLabelTicks.indexOf(d)]));
gy.select(".domain").remove();
gy.selectAll("text").attr("x",0).attr("dy",31).attr("font-family",tickFont).attr("font-weight","bold").attr("font-size",85).attr("fill","#000");

// Title
const title="#5b475c";
const serif="'Liberation Serif'";
const T=(s,xx,yy,size,style,weight,fill)=>svg.append("text").attr("x",xx).attr("y",yy).attr("font-family",serif).attr("font-size",size)
  .attr("font-style",style).attr("font-weight",weight).attr("fill",fill).text(s);
T("Coannihilation Partner:",781,83,83,"normal","bold",title);
T("S",1650,83,83,"italic","normal",title);
T("\u03F5",1698,52,56,"normal","normal",title);
T("1",1696,109,58,"normal","normal",title);

// Axis titles
T("m",1036,1730,122,"italic","bold","#000");
T("F",1131,1741,58,"italic","bold","#000");
T("[GeV]",1203,1730,92,"normal","bold","#000");
const yl=svg.append("g").attr("transform","translate(105,0) rotate(-90)");
const R=(s,pos,dy,size,style)=>yl.append("text").attr("x",-pos).attr("y",dy).attr("font-family",serif).attr("font-size",size)
  .attr("font-style",style).attr("font-weight","bold").attr("fill","#000").text(s);
R("\u0394",1095,0,92,"normal");
R("m",1032,0,118,"italic");
R("S",918,14,68,"italic");
R("1",880,24,48,"normal");
R("[GeV]",828,0,86,"normal");
</script></body></html>
